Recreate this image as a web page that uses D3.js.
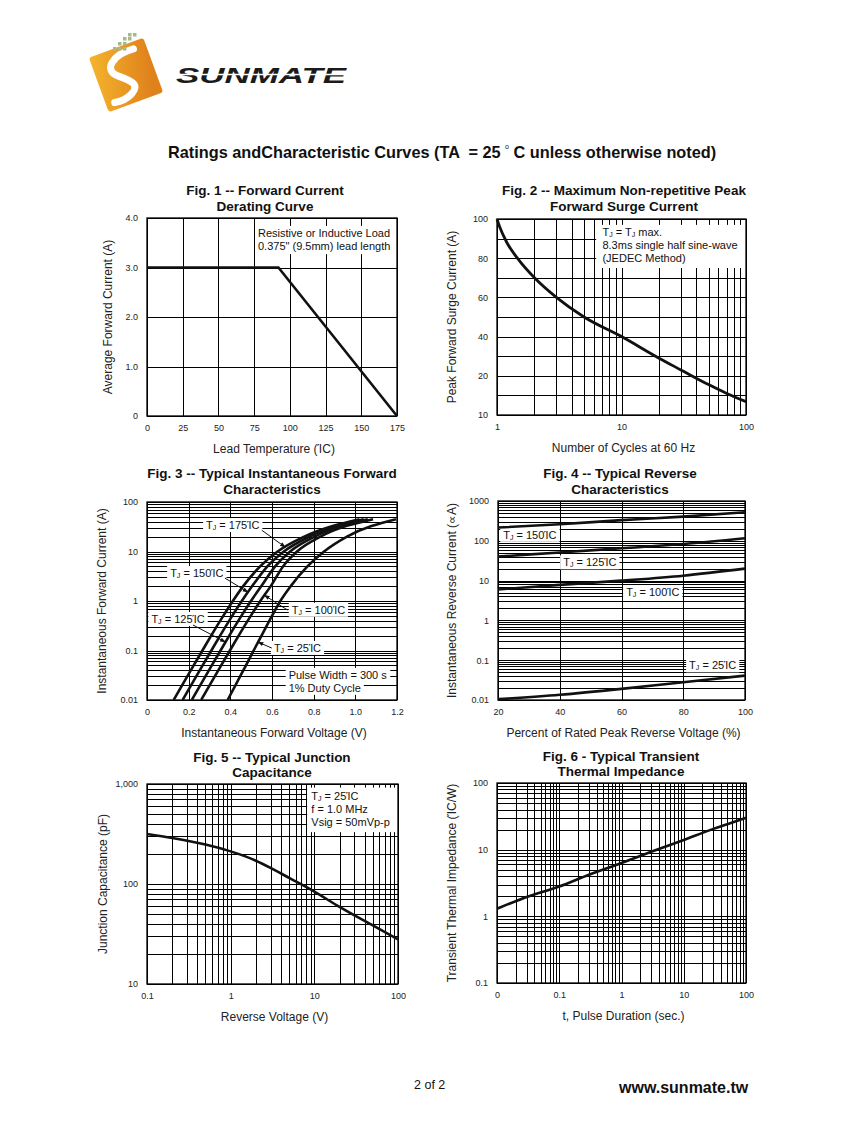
<!DOCTYPE html>
<html>
<head>
<meta charset="utf-8">
<script src="https://cdn.jsdelivr.net/npm/d3@7"></script>
<style>
  body { margin: 0; background: #fff; }
  text { font-family: "Liberation Sans", Arial, Helvetica, sans-serif; white-space: pre; }
</style>
</head>
<body>
<script>
// ---- data ----
// Fig 1: derating
const fig1Temp = [0, 92, 175];
const fig1Current = [3.0, 3.0, 0];
const fig1TempTicks = [0, 25, 50, 75, 100, 125, 150, 175];
const fig1CurrentTicks = [0, 1, 2, 3, 4];
const fig1CurrentLabels = ["0", "1.0", "2.0", "3.0", "4.0"];

// Fig 2: surge current
const fig2Cycles = [1, 1.05, 1.2, 1.5, 2, 3, 5, 10, 20, 30, 50, 70, 100];
const fig2Current = [100, 96, 88, 79, 70, 60, 50, 40, 29, 23, 15.5, 11, 6.8];
const fig2CycleTicks = [1, 10, 100];
const fig2CurrentTicks = [0, 20, 40, 60, 80, 100];
const fig2CurrentLabels = ["10", "20", "40", "60", "80", "100"];

// Fig 3: forward characteristics (current in A, voltage in V per curve)
const fig3Current = [0.01, 0.02, 0.05, 0.1, 0.2, 0.5, 1, 2, 5, 10, 20, 45];
const vf175 = [0.128, 0.169, 0.224, 0.266, 0.308, 0.366, 0.412, 0.462, 0.543, 0.627, 0.755, 1.020];
const vf150 = [0.171, 0.212, 0.267, 0.309, 0.351, 0.409, 0.455, 0.505, 0.578, 0.657, 0.780, 1.040];
const vf125 = [0.215, 0.256, 0.311, 0.353, 0.395, 0.453, 0.499, 0.549, 0.615, 0.687, 0.805, 1.060];
const vf100 = [0.260, 0.301, 0.356, 0.398, 0.440, 0.498, 0.544, 0.594, 0.653, 0.720, 0.833, 1.085];
const vf25  = [0.387, 0.425, 0.475, 0.512, 0.550, 0.600, 0.640, 0.690, 0.770, 0.850, 0.960, 1.195];
const fig3VoltTicks = [0, 0.2, 0.4, 0.6, 0.8, 1.0, 1.2];
const fig3VoltLabels = ["0", "0.2", "0.4", "0.6", "0.8", "1.0", "1.2"];
const fig3CurrentTicks = [0.01, 0.1, 1, 10, 100];
const fig3CurrentLabels = ["0.01", "0.1", "1", "10", "100"];

// Fig 4: reverse characteristics (uA)
const fig4Percent = [20, 40, 60, 80, 100];
const ir150 = [215, 260, 330, 405, 520];
const ir125 = [40, 51, 65, 83, 116];
const ir100 = [6.0, 7.8, 10, 13.3, 20];
const ir25 = [0.0105, 0.0135, 0.019, 0.028, 0.041];
const fig4CurrentTicks = [0.01, 0.1, 1, 10, 100, 1000];
const fig4CurrentLabels = ["0.01", "0.1", "1", "10", "100", "1000"];

// Fig 5: junction capacitance
const fig5Voltage = [0.1, 0.2, 0.5, 1, 1.5, 2, 3, 5, 10, 20, 50, 100];
const fig5Cap = [316, 288, 248, 212, 189, 171, 145, 115, 84, 59, 38.5, 28];
const fig5VoltTicks = [0.1, 1, 10, 100];
const fig5VoltLabels = ["0.1", "1", "10", "100"];
const fig5CapTicks = [10, 100, 1000];
const fig5CapLabels = ["10", "100", "1,000"];

// Fig 6: transient thermal impedance
const fig6Time = [0.01, 0.03, 0.1, 0.3, 1, 3, 10, 30, 50, 100];
const fig6Z = [1.3, 1.95, 2.8, 4.2, 6.3, 9.3, 14, 20.5, 24, 30];
const fig6TimeTicks = [0.01, 0.1, 1, 10, 100];
const fig6TimeLabels = ["0", "0.1", "1", "10", "100"];
const fig6ZTicks = [0.1, 1, 10, 100];
const fig6ZLabels = ["0.1", "1", "10", "100"];

const DEG = "\u038AC";

const svg = d3.select("body").append("svg").attr("width", 847).attr("height", 1125);
svg.append("rect").attr("width", 847).attr("height", 1125).attr("fill", "#fff");

// ---- header logo ----
const defs = svg.append("defs");
const grad = defs.append("linearGradient").attr("id", "logoGrad").attr("x1", "0").attr("x2", "1").attr("y1", "0").attr("y2", "0.3");
grad.append("stop").attr("offset", "0").attr("stop-color", "#f4b52c");
grad.append("stop").attr("offset", "1").attr("stop-color", "#e0821c");
defs.append("marker").attr("id", "arrow").attr("viewBox", "0 0 10 10").attr("refX", 9).attr("refY", 5)
  .attr("markerWidth", 6).attr("markerHeight", 6).attr("orient", "auto-start-reverse")
  .append("path").attr("d", "M0,1.5 L10,5 L0,8.5 z").attr("fill", "#111");

const logo = svg.append("g").attr("transform", "translate(126,75) rotate(-20)");
logo.append("rect").attr("x", -29).attr("y", -29).attr("width", 58).attr("height", 58).attr("rx", 3).attr("fill", "url(#logoGrad)");
logo.append("path").attr("d", "M16,-22 C-6,-24 -20,-12 -8,-2 C4,8 10,14 -2,20 C-8,23 -14,23 -20,22")
  .attr("fill", "none").attr("stroke", "#fff").attr("stroke-width", 7).attr("stroke-linecap", "round");
[[113, 47], [118, 47], [118, 42], [123, 42], [123, 37], [128, 37], [128, 33], [133, 33], [123, 47]].forEach(d => {
  svg.append("rect").attr("x", d[0]).attr("y", d[1]).attr("width", 3.5).attr("height", 3.5).attr("fill", "#a9b887");
});
svg.append("text").attr("x", 176).attr("y", 83).attr("font-size", 22).attr("font-weight", "bold")
  .attr("font-style", "italic").attr("textLength", 170).attr("lengthAdjust", "spacingAndGlyphs")
  .attr("fill", "#1b1b1b").text("SUNMATE");
svg.append("line").attr("x1", 174).attr("x2", 348).attr("y1", 74.5).attr("y2", 74.5).attr("stroke", "#fff").attr("stroke-width", 1.6);

// ---- page title ----
const mt = svg.append("text").attr("x", 168).attr("y", 158).attr("font-size", 16.3).attr("font-weight", "bold").attr("fill", "#111");
mt.append("tspan").text("Ratings andCharacteristic Curves (TA  = 25 ");
mt.append("tspan").attr("font-size", 7).attr("dy", -9).attr("font-weight", "normal").text("o");
mt.append("tspan").attr("dy", 9).text(" C unless otherwise noted)");

// ---- panel helper ----
function panel(p) {
  const x = (p.xLog ? d3.scaleLog() : d3.scaleLinear()).domain(p.xDomain).range([p.left, p.right]);
  const y = (p.yLog ? d3.scaleLog() : d3.scaleLinear()).domain(p.yDomain).range([p.bottom, p.top]);
  const w = p.right - p.left, h = p.bottom - p.top;
  const g = svg.append("g");

  const grid = g.append("g").attr("shape-rendering", "crispEdges");
  grid.append("g").attr("transform", `translate(0,${p.bottom})`)
    .call(d3.axisBottom(x).tickValues(p.xGrid || x.ticks()).tickSize(-h).tickFormat(""))
    .call(a => a.select(".domain").remove());
  grid.append("g").attr("transform", `translate(${p.left},0)`)
    .call(d3.axisLeft(y).tickValues(p.yGrid || y.ticks()).tickSize(-w).tickFormat(""))
    .call(a => a.select(".domain").remove());
  grid.selectAll("line").attr("stroke", "#000").attr("stroke-width", 1);

  const boxes = g.append("g");
  g.append("rect").attr("x", p.left).attr("y", p.top).attr("width", w).attr("height", h)
    .attr("fill", "none").attr("stroke", "#000").attr("stroke-width", 1.3);
  const marks = g.append("g");
  const labels = g.append("g");

  const xa = g.append("g").attr("transform", `translate(0,${p.bottom})`)
    .call(d3.axisBottom(x).tickValues(p.xTicks).tickFormat((d, i) => p.xLabels[i]).tickSize(0).tickPadding(9));
  const ya = g.append("g").attr("transform", `translate(${p.left},0)`)
    .call(d3.axisLeft(y).tickValues(p.yTicks).tickFormat((d, i) => p.yLabels[i]).tickSize(0).tickPadding(9));
  [xa, ya].forEach(a => {
    a.select(".domain").remove();
    a.attr("font-family", null).attr("font-size", 9);
    a.selectAll("text").attr("fill", "#222");
  });

  p.title.forEach((t, i) => g.append("text").attr("x", p.titleX).attr("y", p.titleY + i * 15.5)
    .attr("text-anchor", "middle").attr("font-weight", "bold").attr("font-size", 13.5).attr("fill", "#111").text(t));
  g.append("text").attr("x", (p.left + p.right) / 2 + 2).attr("y", p.bottom + 36.5).attr("text-anchor", "middle")
    .attr("font-size", 12).attr("fill", "#222").text(p.xTitle);
  g.append("text").attr("transform", `translate(${p.yTitleX},${(p.top + p.bottom) / 2}) rotate(-90)`)
    .attr("text-anchor", "middle").attr("dy", "0.35em").attr("font-size", 12).attr("fill", "#222").text(p.yTitle);

  return { x, y, boxes, marks, labels };
}

function curve(pn, xs, ys, width) {
  const pts = xs.map((d, i) => [d, ys[i]]);
  pn.marks.append("path")
    .attr("d", d3.line().x(d => pn.x(d[0])).y(d => pn.y(d[1])).curve(d3.curveMonotoneX)(pts))
    .attr("fill", "none").attr("stroke", "#111").attr("stroke-width", width || 2.6).attr("stroke-linejoin", "round");
}

function tj(rest, more) {
  const s = [{ t: "T" }, { t: "J", sub: true }, { t: rest }];
  if (more) s.push({ t: "J", sub: true }, { t: more });
  return s;
}

function note(pn, xv, yv, segs, box) {
  const t = pn.labels.append("text").attr("x", pn.x(xv)).attr("y", pn.y(yv)).attr("dy", "0.35em")
    .attr("font-size", 11).attr("fill", "#111");
  let shifted = false;
  segs.forEach(s => {
    const ts = t.append("tspan").text(s.t);
    if (s.sub) { ts.attr("font-size", 7).attr("dy", 1); shifted = true; }
    else if (shifted) { ts.attr("dy", -1); shifted = false; }
  });
  if (box) {
    const b = t.node().getBBox();
    pn.boxes.append("rect").attr("x", b.x - 3).attr("y", b.y - 1).attr("width", b.width + 6).attr("height", b.height + 2).attr("fill", "#fff");
  }
}

function whiteBox(pn, x0, x1, y0, y1) {
  pn.boxes.append("rect").attr("x", pn.x(x0)).attr("y", pn.y(y1))
    .attr("width", pn.x(x1) - pn.x(x0)).attr("height", pn.y(y0) - pn.y(y1)).attr("fill", "#fff");
}

function arrow(pn, from, to) {
  pn.labels.append("line").attr("x1", pn.x(from[0])).attr("y1", pn.y(from[1]))
    .attr("x2", pn.x(to[0])).attr("y2", pn.y(to[1])).attr("stroke", "#111").attr("stroke-width", 1)
    .attr("marker-end", "url(#arrow)");
}

// ---- Fig 1 ----
const p1 = panel({
  left: 147, right: 397, top: 218, bottom: 416,
  xDomain: [0, 175], yDomain: [0, 4],
  xGrid: fig1TempTicks, yGrid: fig1CurrentTicks,
  xTicks: fig1TempTicks, xLabels: fig1TempTicks.map(String),
  yTicks: fig1CurrentTicks, yLabels: fig1CurrentLabels,
  title: ["Fig. 1 -- Forward Current", "Derating Curve"], titleX: 265, titleY: 195,
  xTitle: "Lead Temperature (" + DEG + ")", yTitle: "Average Forward Current (A)", yTitleX: 108
});
whiteBox(p1, 76, 175, 3.27, 3.84);
note(p1, 77.7, 3.69, [{ t: "Resistive or Inductive Load" }]);
note(p1, 77.7, 3.44, [{ t: "0.375\" (9.5mm) lead length" }]);
p1.marks.append("path")
  .attr("d", d3.line().x((d, i) => p1.x(d)).y((d, i) => p1.y(fig1Current[i]))(fig1Temp))
  .attr("fill", "none").attr("stroke", "#111").attr("stroke-width", 2.6);

// ---- Fig 2 ----
const p2 = panel({
  left: 497, right: 746, top: 219, bottom: 415,
  xLog: true, xDomain: [1, 100], yDomain: [0, 100],
  yGrid: d3.range(0, 101, 10),
  xTicks: fig2CycleTicks, xLabels: fig2CycleTicks.map(String),
  yTicks: fig2CurrentTicks, yLabels: fig2CurrentLabels,
  title: ["Fig. 2 -- Maximum Non-repetitive Peak", "Forward Surge Current"], titleX: 624, titleY: 195,
  xTitle: "Number of Cycles at 60 Hz", yTitle: "Peak Forward Surge Current (A)", yTitleX: 452
});
whiteBox(p2, 6.26, 100, 75, 97);
note(p2, 7.03, 93.3, tj(" = T", " max."));
note(p2, 7.03, 86.8, [{ t: "8.3ms single half sine-wave" }]);
note(p2, 7.03, 80.0, [{ t: "(JEDEC Method)" }]);
curve(p2, fig2Cycles, fig2Current, 2.8);

// ---- Fig 3 ----
const p3 = panel({
  left: 147, right: 397, top: 502, bottom: 700,
  xDomain: [0, 1.2], yLog: true, yDomain: [0.01, 100],
  xGrid: fig3VoltTicks,
  xTicks: fig3VoltTicks, xLabels: fig3VoltLabels,
  yTicks: fig3CurrentTicks, yLabels: fig3CurrentLabels,
  title: ["Fig. 3 -- Typical Instantaneous Forward", "Characteristics"], titleX: 272, titleY: 478,
  xTitle: "Instantaneous Forward Voltage (V)", yTitle: "Instantaneous Forward Current (A)", yTitleX: 102
});
[vf175, vf150, vf125, vf100, vf25].forEach(v => curve(p3, v, fig3Current, 2.6));
note(p3, 0.2835, 33.9, tj(" = 175" + DEG), true);
note(p3, 0.111, 3.65, tj(" = 150" + DEG), true);
note(p3, 0.021, 0.43, tj(" = 125" + DEG), true);
note(p3, 0.695, 0.66, tj(" = 100" + DEG), true);
note(p3, 0.609, 0.112, tj(" = 25" + DEG), true);
note(p3, 0.680, 0.032, [{ t: "Pulse Width = 300 s" }], true);
note(p3, 0.680, 0.0175, [{ t: "1% Duty Cycle" }], true);
arrow(p3, [0.551, 26.9], [0.664, 12.2]);
arrow(p3, [0.374, 2.9], [0.485, 1.51]);
arrow(p3, [0.221, 0.327], [0.377, 0.148]);
arrow(p3, [0.675, 0.656], [0.563, 1.31]);
arrow(p3, [0.599, 0.112], [0.533, 0.148]);

// ---- Fig 4 ----
const p4 = panel({
  left: 498, right: 745, top: 501, bottom: 700,
  xDomain: [20, 100], yLog: true, yDomain: [0.01, 1000],
  xGrid: fig4Percent,
  xTicks: fig4Percent, xLabels: fig4Percent.map(String),
  yTicks: fig4CurrentTicks, yLabels: fig4CurrentLabels,
  title: ["Fig. 4 -- Typical Reverse", "Characteristics"], titleX: 620, titleY: 478,
  xTitle: "Percent of Rated Peak Reverse Voltage (%)", yTitle: "Instantaneous Reverse Current (\u221DA)", yTitleX: 452
});
[ir150, ir125, ir100, ir25].forEach(v => curve(p4, fig4Percent, v, 2.6));
note(p4, 21.7, 140, tj(" = 150" + DEG), true);
note(p4, 41.1, 28.5, tj(" = 125" + DEG), true);
note(p4, 61.5, 5.0, tj(" = 100" + DEG), true);
note(p4, 81.9, 0.0736, tj(" = 25" + DEG), true);

// ---- Fig 5 ----
const p5 = panel({
  left: 147, right: 398, top: 784, bottom: 984,
  xLog: true, xDomain: [0.1, 100], yLog: true, yDomain: [10, 1000],
  xTicks: fig5VoltTicks, xLabels: fig5VoltLabels,
  yTicks: fig5CapTicks, yLabels: fig5CapLabels,
  title: ["Fig. 5 -- Typical Junction", "Capacitance"], titleX: 272, titleY: 761.5,
  xTitle: "Reverse Voltage (V)", yTitle: "Junction Capacitance (pF)", yTitleX: 103
});
whiteBox(p5, 8.2, 100, 330, 920);
note(p5, 9.2, 764, tj(" = 25" + DEG));
note(p5, 9.2, 566, [{ t: "f = 1.0 MHz" }]);
note(p5, 9.2, 420, [{ t: "Vsig = 50mVp-p" }]);
curve(p5, fig5Voltage, fig5Cap, 2.6);

// ---- Fig 6 ----
const p6 = panel({
  left: 497, right: 746, top: 783, bottom: 983,
  xLog: true, xDomain: [0.01, 100], yLog: true, yDomain: [0.1, 100],
  xTicks: fig6TimeTicks, xLabels: fig6TimeLabels,
  yTicks: fig6ZTicks, yLabels: fig6ZLabels,
  title: ["Fig. 6 - Typical Transient", "Thermal Impedance"], titleX: 621, titleY: 760.5,
  xTitle: "t, Pulse Duration (sec.)", yTitle: "Transient Thermal Impedance (" + DEG + "/W)", yTitleX: 452
});
curve(p6, fig6Time, fig6Z, 2.6);

// ---- footer ----
svg.append("text").attr("x", 414).attr("y", 1088.5).attr("font-size", 12.5).attr("fill", "#111").text("2 of 2");
svg.append("text").attr("x", 619).attr("y", 1093).attr("font-size", 16).attr("font-weight", "bold").attr("fill", "#111").text("www.sunmate.tw");
</script>
</body>
</html>
